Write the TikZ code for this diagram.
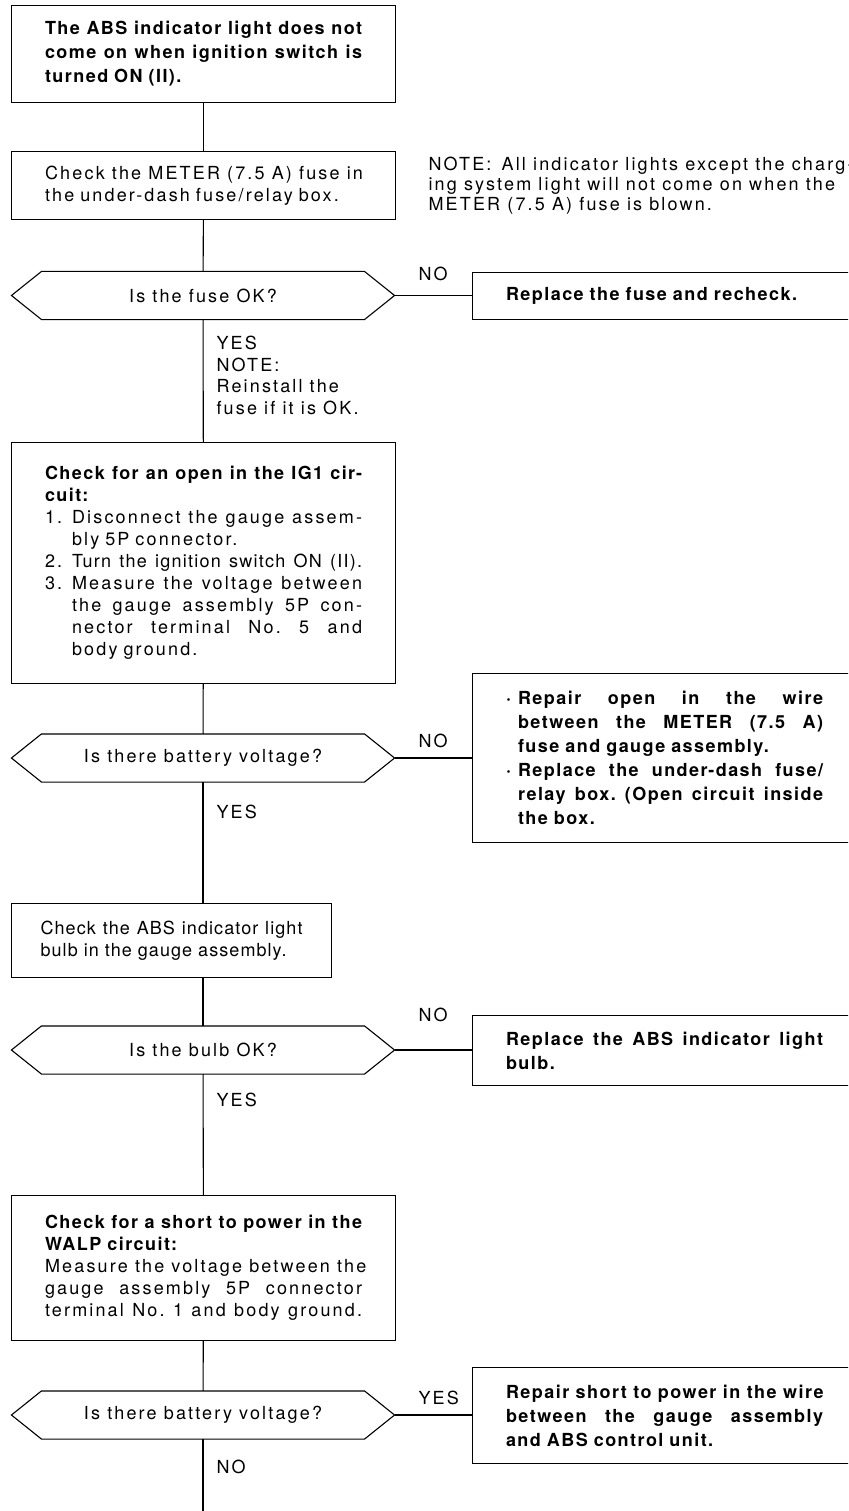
\documentclass[tikz,border=0pt]{standalone}
\usepackage{fontspec}
\setmainfont{TeX Gyre Heros}[LetterSpace=12,BoldFeatures={LetterSpace=8}]
\usetikzlibrary{calc}

\newcommand{\jline}[2][0pt]{\hspace*{#1}\makebox[\dimexpr\linewidth-#1\relax][s]{\spaceskip=\fontdimen2\font plus 1fil\xspaceskip=\spaceskip#2}}
\newcommand{\numline}[3][27pt]{\makebox[#1][l]{#2}\makebox[\dimexpr\linewidth-#1\relax][s]{\spaceskip=\fontdimen2\font plus 1fil\xspaceskip=\spaceskip#3}}
\newcommand{\hexframe}[1]{\draw (#1.west) -- ([xshift=30pt]#1.north west) -- ([xshift=-30pt]#1.north east) -- (#1.east) -- ([xshift=-30pt]#1.south east) -- ([xshift=30pt]#1.south west) -- cycle;}

\begin{document}
\begin{tikzpicture}[x=1pt,y=-1pt,line width=1.1pt,
    box/.style={draw,rectangle,anchor=north west,minimum width=384pt,text width=317pt,align=left,inner sep=0pt,font=\fontsize{18}{22}\selectfont},
    bbox/.style={box,font=\fontsize{18}{24}\selectfont\bfseries},
    dec/.style={rectangle,minimum width=382pt,minimum height=47pt,inner sep=0pt,font=\fontsize{18}{22}\selectfont},
    lbl/.style={anchor=base west,inner sep=0pt,align=left,font=\fontsize{18}{21.5}\selectfont}]
    \clip (0,0) rectangle (848,1511);
    \fill[white] (0,0) rectangle (848,1511);

    \node[bbox,minimum height=97pt] (b1) at (11,5) {\jline{The ABS indicator light does not}\\\jline{come on when ignition switch is}\\turned ON (II).};
    \node[box,minimum height=68pt] (b2) at (11,151) {\jline{Check the METER (7.5 A) fuse in}\\the under-dash fuse/relay box.};
    \node[lbl,anchor=north west,font=\fontsize{18}{20}\selectfont] (note) at (428,157) {NOTE:\, All indicator lights except the charg-\\ing system light will not come on when the\\METER (7.5 A) fuse is blown.};

    \node[dec] (d1) at (203,295.5) {Is the fuse OK?};
    \hexframe{d1}
    \node[bbox,minimum height=47pt] (r1) at (472,272) {Replace the fuse and recheck.};
    \node[lbl] (no1) at (418,281) {NO};
    \node[lbl,anchor=north west] (yes1) at (216,336) {YES\\NOTE:\\Reinstall the\\fuse if it is OK.};

    \node[box,minimum height=241pt] (b3) at (11,442) {\textbf{\jline{Check for an open in the IG1 cir-}}\\\textbf{cuit:}\\\numline{1.}{Disconnect the gauge assem-}\\\hspace*{27pt}bly 5P connector.\\\numline{2.}{\addfontfeature{LetterSpace=7}Turn the ignition switch ON (II).}\\\numline{3.}{Measure the voltage between}\\\jline[27pt]{the gauge assembly 5P con-}\\\jline[27pt]{nector terminal No. 5 and}\\\hspace*{27pt}body ground.};

    \node[dec] (d2) at (203,758) {Is there battery voltage?};
    \hexframe{d2}
    \node[bbox,minimum height=169pt] (r2) at (472,673) {\numline[12pt]{\textperiodcentered}{Repair open in the wire}\\\jline[12pt]{between the METER (7.5 A)}\\\hspace*{12pt}fuse and gauge assembly.\\\numline[12pt]{\textperiodcentered}{Replace the under-dash fuse/}\\\jline[12pt]{relay box. (Open circuit inside}\\\hspace*{12pt}the box.};
    \node[lbl] (no2) at (418,747) {NO};
    \node[lbl] (yes2) at (216,818.5) {YES};

    \node[box,minimum width=320pt,text width=262pt,minimum height=74pt,font=\fontsize{18}{22}\selectfont\addfontfeature{LetterSpace=6}] (b5) at (11,903) {\jline{Check the ABS indicator light}\\bulb in the gauge assembly.};

    \node[dec] (d3) at (203,1050) {Is the bulb OK?};
    \hexframe{d3}
    \node[bbox,minimum height=70pt] (r3) at (472,1015) {\jline{Replace the ABS indicator light}\\bulb.};
    \node[lbl] (no3) at (418,1021.5) {NO};
    \node[lbl] (yes3) at (216,1106.5) {YES};

    \node[box,minimum height=145pt] (b6) at (11,1195) {\textbf{\jline{Check for a short to power in the}}\\\textbf{WALP circuit:}\\\jline{Measure the voltage between the}\\\jline{gauge assembly 5P connector}\\\jline{terminal No. 1 and body ground.}};

    \node[dec] (d4) at (203,1415) {Is there battery voltage?};
    \hexframe{d4}
    \node[bbox,minimum height=96pt] (r4) at (472,1367) {\jline{Repair short to power in the wire}\\\jline{between the gauge assembly}\\and ABS control unit.};
    \node[lbl] (yes4) at (418,1404) {YES};
    \node[lbl] (no4) at (216,1473.5) {NO};
    \coordinate (end) at (203,1511);

    \draw (b1) -- (b2);
    \draw (b2) -- (d1);
    \draw (d1) -- (b3);
    \draw (b3) -- (d2);
    \draw (d2.south) -- (d2.south |- b5.north);
    \draw (d3.north |- b5.south) -- (d3.north);
    \draw (d3) -- (b6);
    \draw (b6) -- (d4);
    \draw (d4.south) -- (end);

    \draw (d1.east) -- (d1.east -| r1.west);
    \draw (d2.east) -- (d2.east -| r2.west);
    \draw (d3.east) -- (d3.east -| r3.west);
    \draw (d4.east) -- (d4.east -| r4.west);
\end{tikzpicture}
\end{document}
